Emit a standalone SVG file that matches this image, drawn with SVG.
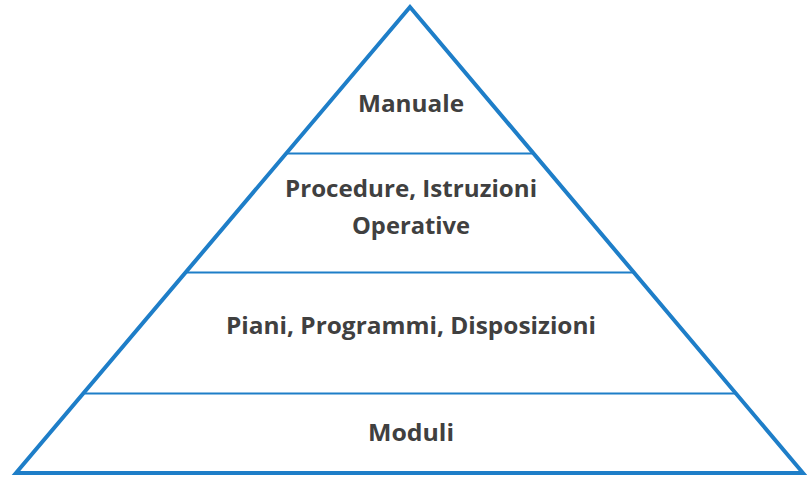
<svg xmlns="http://www.w3.org/2000/svg" width="807" height="477" viewBox="0 0 807 477">
<style>
.t{font-family:"Open Sans","Liberation Sans",sans-serif;font-weight:bold;font-size:24px;fill:#404040;text-anchor:middle}
.sep{stroke:#1E7EC8;stroke-width:2;fill:none}
</style>
<rect width="807" height="477" fill="#fff"/>
<g id="pyramid">
<polygon points="410,7 16,473 803,473" fill="#fff" stroke="#1E7EC8" stroke-width="4" stroke-linejoin="miter"/>
</g>
<g id="connectors">
<line class="sep" x1="287" y1="153.5" x2="533" y2="153.5"/>
<line class="sep" x1="187" y1="272.5" x2="633" y2="272.5"/>
<line class="sep" x1="85" y1="393.5" x2="735" y2="393.5"/>
</g>
<g id="manuale"><text class="t" x="411" y="112" textLength="106" lengthAdjust="spacingAndGlyphs">Manuale</text></g>
<g id="procedure"><text class="t" x="411" y="197" textLength="252" lengthAdjust="spacingAndGlyphs">Procedure, Istruzioni</text>
<text class="t" x="411" y="234" textLength="118" lengthAdjust="spacingAndGlyphs">Operative</text></g>
<g id="piani"><text class="t" x="411" y="334" textLength="370" lengthAdjust="spacingAndGlyphs">Piani, Programmi, Disposizioni</text></g>
<g id="moduli"><text class="t" x="411" y="441" textLength="86" lengthAdjust="spacingAndGlyphs">Moduli</text></g>
</svg>
